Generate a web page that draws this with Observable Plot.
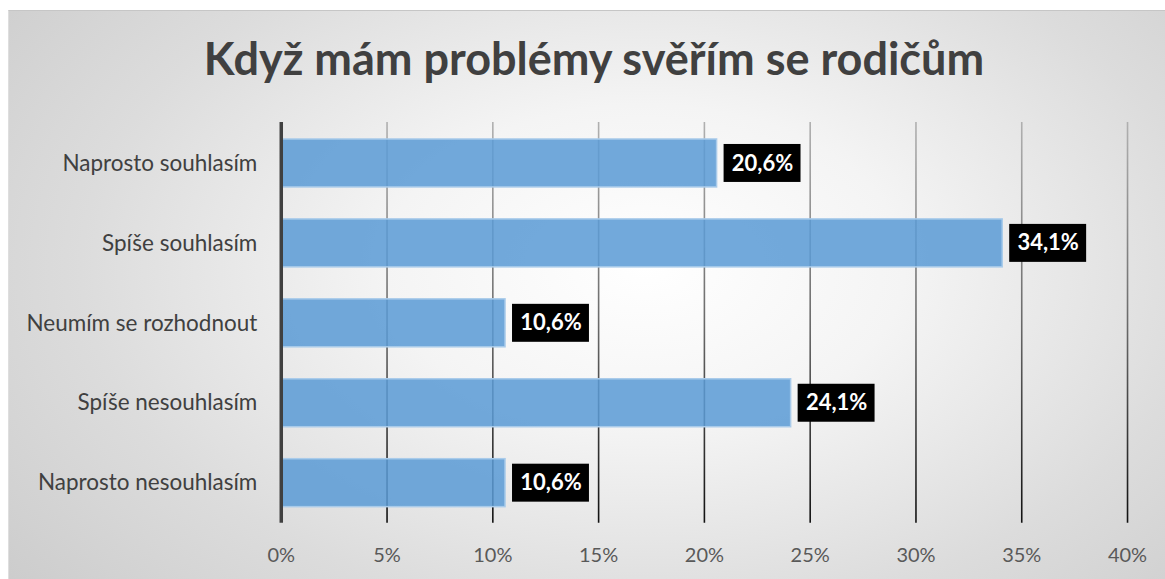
<!DOCTYPE html>
<html>
<head>
<meta charset="utf-8">
<script src="https://cdn.jsdelivr.net/npm/d3@7"></script>
<script src="https://cdn.jsdelivr.net/npm/@observablehq/plot@0.6"></script>
<style>
  html, body { margin: 0; padding: 0; background: #ffffff; }
  #frame {
    position: absolute; left: 8px; top: 10px; width: 1157px; height: 569px;
    box-sizing: border-box; border-top: 1px solid #c6c6c6; border-left: 1px solid #dedede;
    background: radial-gradient(ellipse 75% 95% at 55% 45%, #ffffff 0%, #f4f4f4 30%, #dcdcdc 65%, #c9c9c9 100%);
    overflow: hidden;
  }
  #title {
    height: 99px; line-height: 94px; text-align: center;
    font-family: Lato, "Open Sans", sans-serif; font-weight: bold; font-size: 45px; color: #404040;
    padding-left: 14px;
  }
  #chart svg { display: block; }
</style>
</head>
<body>
<div id="frame">
  <div id="title">Když mám problémy svěřím se rodičům</div>
  <div id="chart"></div>
</div>
<script>
const categories = ["Naprosto souhlasím", "Spíše souhlasím", "Neumím se rozhodnout", "Spíše nesouhlasím", "Naprosto nesouhlasím"];
const values = [20.6, 34.1, 10.6, 24.1, 10.6];
const valueLabels = ["20,6%", "34,1%", "10,6%", "24,1%", "10,6%"];
const tickValues = [0, 5, 10, 15, 20, 25, 30, 35, 40];
const tickLabels = ["0%", "5%", "10%", "15%", "20%", "25%", "30%", "35%", "40%"];

const data = categories.map((c, i) => ({cat: c, value: values[i], label: valueLabels[i]}));
const W = 1157, H = 469, mT = 12, mB = 56;

const plot = Plot.plot({
  width: W, height: H,
  marginLeft: 272, marginRight: 38, marginTop: mT, marginBottom: mB,
  style: {background: "transparent", fontFamily: "Lato, 'Open Sans', sans-serif", fontSize: "20px", color: "#595959", overflow: "visible"},
  x: {domain: [0, 40], ticks: tickValues, tickFormat: (d) => tickLabels[tickValues.indexOf(d)], label: null},
  y: {domain: categories, paddingInner: 0.4, paddingOuter: 0.2, label: null},
  marks: [
    Plot.ruleX(tickValues.filter((t) => t > 0), {stroke: "url(#gridGrad)", strokeWidth: 1.6}),
    Plot.barX(data, {x: "value", y: "cat", fill: "#5b9bd5", fillOpacity: 0.86, stroke: "#a9cbea", strokeWidth: 1.5}),
    Plot.ruleX([0], {stroke: "#404040", strokeWidth: 3.5}),
    Plot.barX(data, {x1: "value", x2: "value", y: "cat", insetLeft: 7, insetRight: -84, insetTop: 5, insetBottom: 5, fill: "#000000"}),
    Plot.text(data, {x: "value", y: "cat", text: "label", dx: 45.5, fill: "#ffffff", fontWeight: "bold", fontSize: 22, textAnchor: "middle"}),
    Plot.axisX({ticks: tickValues, tickFormat: (d) => tickLabels[tickValues.indexOf(d)], tickSize: 0, tickPadding: 25, fill: "#595959", fontSize: 20, label: null}),
    Plot.axisY({tickSize: 0, tickPadding: 24, fill: "#404040", fontSize: 22.5, label: null})
  ]
});

const svg = d3.select(plot);
svg.insert("defs", ":first-child").html(
  `<linearGradient id="gridGrad" gradientUnits="userSpaceOnUse" x1="0" y1="${mT}" x2="0" y2="${H - mB}">
     <stop offset="0" stop-color="#b0b0b0"/>
     <stop offset="0.5" stop-color="#6a6a6a"/>
     <stop offset="1" stop-color="#111111"/>
   </linearGradient>`
);
document.getElementById("chart").appendChild(plot);
</script>
</body>
</html>
